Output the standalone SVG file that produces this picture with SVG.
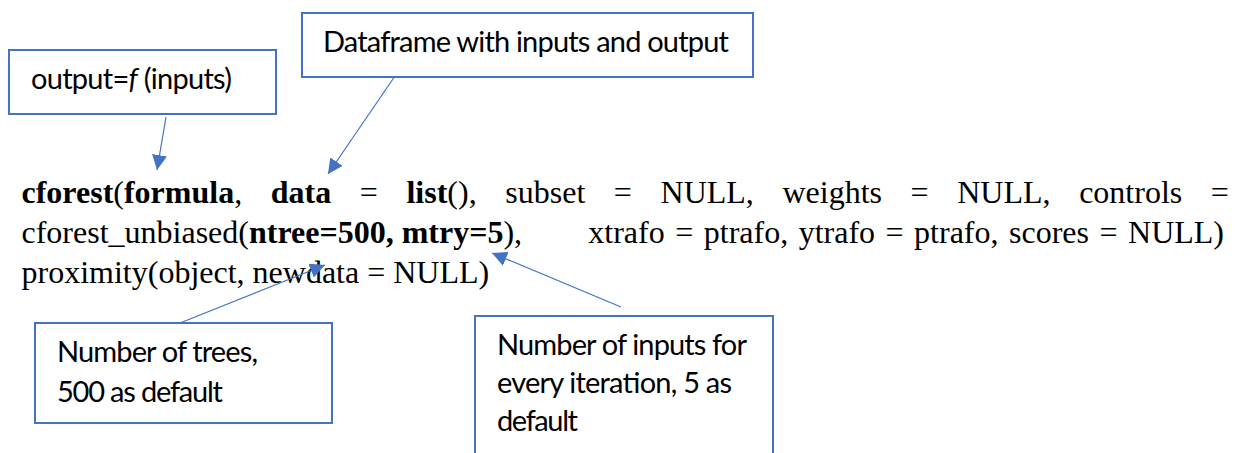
<svg xmlns="http://www.w3.org/2000/svg" width="1242" height="453" viewBox="0 0 1242 453">
<style>
.box{fill:#ffffff;stroke:#4472C4;stroke-width:2}
.lbl{font-family:Lato,"Open Sans","Liberation Sans",sans-serif;font-size:29px;fill:#000}
.code{font-family:"Liberation Serif","Times New Roman",serif;font-size:32px;fill:#000}
.b{font-weight:bold}
.conn{stroke:#4472C4;stroke-width:1.2;fill:none;marker-end:url(#ah)}
</style>
<defs>
<marker id="ah" markerUnits="userSpaceOnUse" markerWidth="16" markerHeight="15" refX="15" refY="7.5" orient="auto">
<path d="M0,0 L15,7.5 L0,15 z" fill="#4472C4"/>
</marker>
</defs>
<rect width="1242" height="453" fill="#ffffff"/>
<g id="code">
<text class="code" x="21.5" y="203" word-spacing="20.6"><tspan class="b">cforest</tspan>(<tspan class="b">formula</tspan>, <tspan class="b">data</tspan> = <tspan class="b">list</tspan>(), subset = NULL, weights = NULL, controls =</text>
<text class="code" x="21.5" y="243">cforest_unbiased(<tspan class="b">ntree=500, mtry=5</tspan>),</text>
<text class="code" x="588.3" y="243" word-spacing="2.5">xtrafo = ptrafo, ytrafo = ptrafo, scores = NULL)</text>
<text class="code" x="21.5" y="283">proximity(object, newdata = NULL)</text>
</g>
<g id="connectors">
<line class="conn" x1="166" y1="117" x2="157" y2="170"/>
<line class="conn" x1="395" y1="76" x2="328" y2="174"/>
<line class="conn" x1="180" y1="323" x2="325" y2="265"/>
<line class="conn" x1="621" y1="307" x2="492" y2="253"/>
</g>
<g id="node-formula">
<rect class="box" x="9" y="50" width="267" height="64"/>
<text class="lbl" x="31" y="89" textLength="201">output=<tspan font-style="italic">f</tspan> (inputs)</text>
</g>
<g id="node-data">
<rect class="box" x="302" y="13" width="451" height="64"/>
<text class="lbl" x="323" y="52" textLength="406">Dataframe with inputs and output</text>
</g>
<g id="node-ntree">
<rect class="box" x="35" y="323" width="297" height="100"/>
<text class="lbl" x="57" y="362" textLength="201">Number of trees,</text>
<text class="lbl" x="57" y="402" textLength="166">500 as default</text>
</g>
<g id="node-mtry">
<rect class="box" x="475" y="316" width="298" height="150"/>
<text class="lbl" x="497" y="355" textLength="250">Number of inputs for</text>
<text class="lbl" x="497" y="393" textLength="235">every iteration, 5 as</text>
<text class="lbl" x="497" y="431" textLength="81">default</text>
</g>
</svg>
